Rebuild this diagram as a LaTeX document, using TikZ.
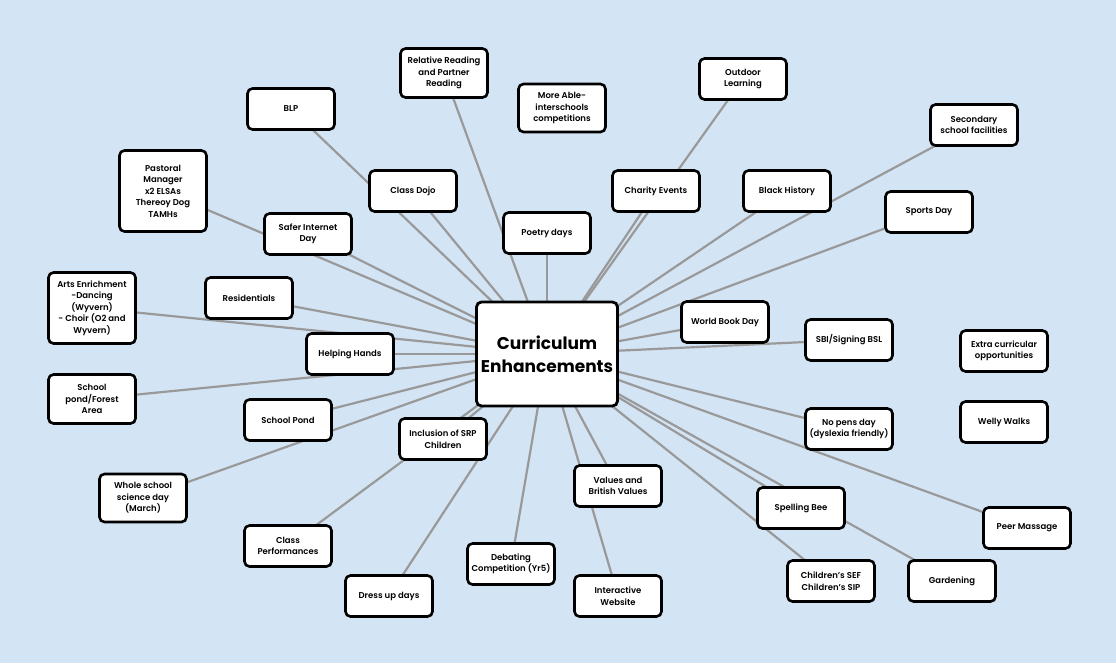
\documentclass[tikz,border=0pt]{standalone}
\usepackage{fontspec}
\setmainfont{Poppins}[BoldFont={Poppins SemiBold}]
\newfontfamily\hubfont{Poppins Bold}
\definecolor{bgblue}{HTML}{D3E4F4}
\definecolor{linegray}{HTML}{999999}
\pgfdeclarelayer{bg}
\pgfdeclarelayer{lines}
\pgfsetlayers{bg,lines,main}
\begin{document}
\begin{tikzpicture}[x=1pt,y=-1pt,
  box/.style={draw=black, line width=2.6pt, fill=white, rounded corners=5pt,
    minimum width=87pt, minimum height=41pt, align=center, inner sep=2pt,
    font=\bfseries\fontsize{8.5}{11.5}\selectfont},
  hub/.style={box, minimum width=141pt, minimum height=104pt, line width=2.8pt,
    font=\hubfont\fontsize{17}{23}\selectfont},
  conn/.style={draw=linegray, line width=2.2pt}]
\useasboundingbox (0,0) rectangle (1116,665);
\begin{pgfonlayer}{bg}
\fill[white] (0,0) rectangle (1116,665);
\fill[bgblue] (0,0) rectangle (1116,663);
\end{pgfonlayer}

\node[hub] (c) at (547,354) {Curriculum\\Enhancements};

\node[box, minimum height=49pt] (rr) at (444,73) {Relative Reading\\and Partner\\Reading};
\node[box, minimum height=48pt] (ma) at (562,108) {More Able-\\interschools\\competitions};
\node[box] (ol) at (743,79) {Outdoor\\Learning};
\node[box] (blp) at (291,109) {BLP};
\node[box] (dojo) at (413,191) {Class Dojo};
\node[box] (poetry) at (547,233) {Poetry days};
\node[box] (charity) at (656,191) {Charity Events};
\node[box] (black) at (787,191) {Black History};
\node[box] (sec) at (974,125) {Secondary\\school facilities};
\node[box] (sports) at (929,212) {Sports Day};
\node[box, minimum height=81pt] (past) at (163,191) {Pastoral\\Manager\\x2 ELSAs\\Thereoy Dog\\TAMHs};
\node[box] (safer) at (308,234) {Safer Internet\\Day};
\node[box, minimum height=71pt] (arts) at (92,308) {Arts Enrichment\\-Dancing\\(Wyvern)\\- Choir (O2 and\\Wyvern)};
\node[box] (resid) at (249,298) {Residentials};
\node[box] (help) at (350,354) {Helping Hands};
\node[box, minimum height=49pt] (pond2) at (92,399) {School\\pond/Forest\\Area};
\node[box] (pond) at (288,420) {School Pond};
\node[box] (wbd) at (725,322) {World Book Day};
\node[box] (sbi) at (849,340) {SBI/Signing BSL};
\node[box] (extra) at (1004,351) {Extra curricular\\opportunities};
\node[box] (nopens) at (849,429) {No pens day\\(dyslexia friendly)};
\node[box] (welly) at (1004,422) {Welly Walks};
\node[box] (incl) at (443,439) {Inclusion of SRP\\Children};
\node[box] (values) at (618,486) {Values and\\British Values};
\node[box] (web) at (618,596) {Interactive\\Website};
\node[box] (debate) at (511,564) {Debating\\Competition (Yr5)};
\node[box] (dress) at (389,596) {Dress up days};
\node[box] (perf) at (288,546) {Class\\Performances};
\node[box, minimum height=48pt] (wssd) at (143,498) {Whole school\\science day\\(March)};
\node[box] (spell) at (801,508) {Spelling Bee};
\node[box] (peer) at (1027,528) {Peer Massage};
\node[box] (chsef) at (831,581) {Children’s SEF\\Children’s SIP};
\node[box] (garden) at (952,581) {Gardening};

\begin{pgfonlayer}{lines}
\foreach \n in {rr,ol,blp,dojo,poetry,charity,black,sec,sports,past,safer,arts,resid,help,pond2,pond,wbd,sbi,nopens,incl,values,web,debate,dress,perf,wssd,spell,peer,chsef,garden}
  \draw[conn] (\n.center) -- (c.center);
\end{pgfonlayer}
\end{tikzpicture}
\end{document}
